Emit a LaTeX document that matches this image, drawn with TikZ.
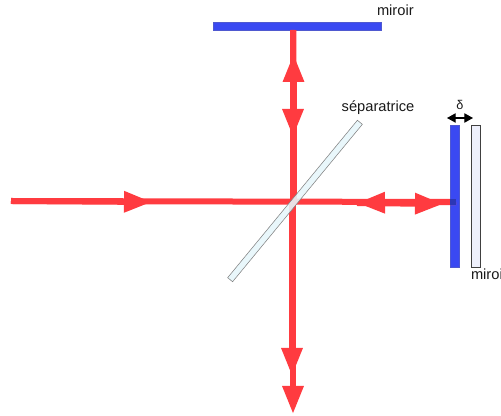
\documentclass[tikz,border=0pt]{standalone}
\usepackage{fontspec}
\setmainfont{Liberation Sans}
\usetikzlibrary{arrows.meta,positioning}
\definecolor{beamred}{HTML}{FF3B40}
\definecolor{mirrorblue}{HTML}{3A49F2}
\definecolor{splitfill}{HTML}{E6F6FB}
\definecolor{ghostfill}{HTML}{EEF0FC}
\begin{document}
\begin{tikzpicture}[
    x=0.75pt, y=-0.75pt, % Work in reference pixels, y downwards
    inner sep=0pt, outer sep=0pt,
    every node/.style={font=\fontsize{11}{13}\selectfont, text=black!90},
    beam/.style={line width=4.5pt, draw=beamred},
    tip/.style={-{Triangle[length=21pt, width=15pt, color=beamred]}},
    mirror/.style={rectangle, fill=mirrorblue, draw=mirrorblue!70!gray, line width=0.3pt},
    vmirror/.style={mirror, minimum width=7pt, minimum height=106.5pt},
    ghost/.style={rectangle, fill=ghostfill, draw=black!75, line width=0.7pt, minimum width=6.5pt, minimum height=106.5pt},
    splitter/.style={rectangle, fill=splitfill, fill opacity=0.88, draw=gray, line width=0.4pt, minimum width=153pt, minimum height=4.8pt, rotate=50.5}
]
    \useasboundingbox (0,0) rectangle (501,416);

    % Mirrors and free ends of the beams
    \node[mirror, minimum width=126pt, minimum height=6pt] (topmirror) at (297,26) {};
    \node[vmirror] (rightmirror) at (454.5,196) {};
    \coordinate (source) at (11,201);
    \coordinate (center) at (293,201);
    \coordinate (rightend) at (456,202);
    \coordinate (forward) at (152,202);
    \coordinate (upperup) at (293.5,54);
    \coordinate (upperdown) at (293,137);
    \coordinate (backward) at (357,203);
    \coordinate (rightfwd) at (443,204);
    \coordinate (lowerfirst) at (292,376);
    \coordinate (lowersecond) at (293,414);
    \coordinate (lowerstop) at (293,395);

    % Beams with their arrowheads
    \draw[beam] (source) -- (rightmirror.west |- rightend);
    \draw[beam, tip] (source) -- (forward);
    \draw[beam] (topmirror.south -| upperup) -- (center);
    \draw[beam, tip] (center -| upperup) -- (upperup);
    \draw[beam, tip] (topmirror.south -| upperdown) -- (upperdown);
    \draw[beam, tip] (rightend) -- (backward);
    \draw[beam, tip] (backward) -- (rightfwd);
    \draw[beam] (center) -- (lowerstop);
    \draw[beam, tip] (center -| lowerfirst) -- (lowerfirst);
    \draw[beam, tip] (lowerfirst -| lowersecond) -- (lowersecond);
    \draw[beam, draw=mirrorblue!75!black] (rightmirror.west |- rightend) -- (rightend);

    % Optics drawn over the beams
    \node[splitter] (split) at (295,201) {};
    \node[ghost] (ghostmirror) [right=9.5pt of rightmirror] {};

    % Labels
    \node[anchor=base west] (toplabel) at (377,16) {miroir};
    \node[anchor=base] (splitlabel) at (378,112) {séparatrice};
    \node[anchor=base west] (ghostlabel) at (471,280) {miroi};
    \node[anchor=base, font=\fontsize{9.5}{11}\selectfont] (deltalabel) at (460,110) {δ};

    % Offset between the two mirrors
    \coordinate (deltaleft) at (447,118);
    \coordinate (deltaright) at (473,118);
    \draw[{Triangle[length=6.5pt,width=7pt]}-{Triangle[length=6.5pt,width=7pt]}, line width=0.9pt, black] (deltaleft) -- (deltaright);
\end{tikzpicture}
\end{document}
